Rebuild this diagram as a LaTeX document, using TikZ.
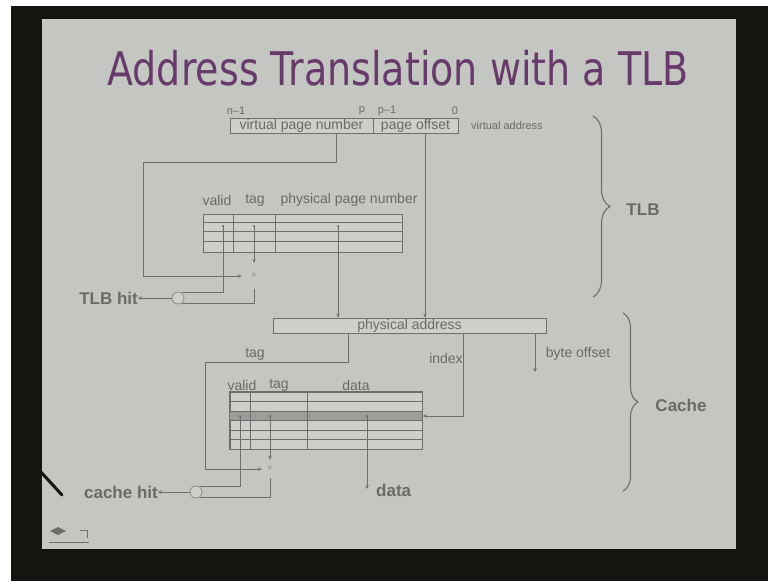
\documentclass[tikz,border=0pt]{standalone}
\usepackage{fontspec}
\setmainfont{Liberation Sans}
\newfontfamily\titlefont{DejaVu Sans}
\usetikzlibrary{arrows.meta,decorations.pathreplacing,calc}

\definecolor{slidebg}{HTML}{C4C6C2}
\definecolor{framecol}{HTML}{131511}
\definecolor{ink}{HTML}{6E6F6C}
\definecolor{txt}{HTML}{6A6B68}
\definecolor{titlecol}{HTML}{683A6C}
\definecolor{cellfill}{HTML}{CDCFCB}
\definecolor{rowhi}{HTML}{9C9D9A}

\begin{document}
\begin{tikzpicture}[x=1pt,y=-1pt,
  wire/.style={draw=ink,line width=0.9pt},
  tip/.style={-{Stealth[length=4pt,width=3.5pt]}},
  lbl/.style={text=txt,font=\fontsize{14}{14}\selectfont,inner sep=0pt},
  smalllbl/.style={text=txt,font=\fontsize{11}{11}\selectfont,inner sep=0pt},
  biglbl/.style={text=txt,font=\bfseries\fontsize{17}{17}\selectfont,inner sep=0pt},
  field/.style={draw=ink,line width=0.7pt,fill=cellfill,minimum height=15pt,inner sep=0pt,text=txt,font=\fontsize{14}{14}\selectfont},
  tablebox/.style={draw=ink,line width=0.7pt,fill=cellfill,inner sep=0pt},
  gate/.style={circle,draw=ink!80,line width=0.8pt,fill=cellfill,minimum size=12pt,inner sep=0pt},
  cmpbox/.style={inner sep=0pt,text=txt,font=\fontsize{7}{7}\selectfont},
  tapdot/.style={circle,fill=ink,inner sep=0pt,minimum size=2.5pt},
  bracestyle/.style={draw=ink,line width=1.1pt,decorate},
]
% frame and slide
\fill[white] (0,0) rectangle (768,581);
\fill[framecol] (11,6) rectangle (768,581);
\fill[slidebg] (42,19) rectangle (736,549);

% title
\node[text=titlecol,inner sep=0pt] (title) at (398,68)
  {\scalebox{1}[1.22]{\titlefont\fontsize{38}{38}\selectfont Address Translation with a TLB}};

% virtual address register
\node[smalllbl] (nm1) at (236,111) {n–1};
\node[smalllbl] (pbit) at (362,111) {p};
\node[smalllbl] (pm1) at (387,111) {p–1};
\node[smalllbl] (zero) at (455,111) {0};
\node[field,minimum width=143pt] (vpn) at (301.5,126) {virtual page number};
\node[field,minimum width=85pt] (po) at (415.5,126) {page offset};
\node[smalllbl,anchor=west] (vaddr) at (471,126) {virtual address};

% TLB
\node[lbl] (hv) at (217,200) {valid};
\node[lbl] (ht) at (255,200) {tag};
\node[lbl] (hp) at (349,200) {physical page number};
\node[tablebox,minimum width=199pt,minimum height=38pt] (tlb) at (302.5,233) {};
\foreach \yy in {222,231,241} \draw[ink,line width=0.8pt] (tlb.west |- 0,\yy) -- (tlb.east |- 0,\yy);
\draw[ink,line width=0.8pt] (233,214) -- (233,252) (275,214) -- (275,252);
\coordinate (tv) at (223,226);
\coordinate (tt) at (254,226);
\coordinate (tp) at (338,226);
\foreach \c in {tv,tt,tp} \node[tapdot] at (\c) {};

\node[cmpbox,minimum width=24pt,minimum height=26pt] (cmp1) at (254,276) {=};
\node[gate] (and1) at (178,298) {};
\node[biglbl,anchor=east] (tlbhit) at (138,298) {TLB hit};

\draw[wire,tip] ([xshift=35pt]vpn.south) |- (143,162) |- (cmp1.west);
\draw[wire,tip] (tt) -- (cmp1.north);
\draw[wire] (cmp1.south) |- (and1.-55);
\draw[wire] (tv) |- (and1.55);
\draw[wire,tip] (and1.west) -- (tlbhit.east);

% physical address
\node[field,minimum width=273pt] (pa) at (409.5,325.5) {physical address};
\draw[wire,tip] (tp) -- (tp |- pa.north);
\draw[wire,tip] ([xshift=9.5pt]po.south) -- ([xshift=9.5pt]po.south |- pa.north);

\node[lbl] (ltag) at (255,354) {tag};
\node[lbl] (lidx) at (446,358) {index};
\node[lbl] (lbyte) at (578,354) {byte offset};

% cache
\node[lbl] (cv0) at (242,385) {valid};
\node[lbl] (ct0) at (279,385) {tag};
\node[lbl] (cd0) at (356,385) {data};
\node[tablebox,minimum width=192pt,minimum height=57pt] (cache) at (326,420.5) {};
\fill[rowhi] (230,411) rectangle (422,420.5);
\foreach \yy in {401.5,411,420.5,430,439.5} \draw[ink,line width=0.8pt] (cache.west |- 0,\yy) -- (cache.east |- 0,\yy);
\draw[ink,line width=0.8pt] (250,392) -- (250,449) (307,392) -- (307,449);
\draw[ink,line width=0.7pt] (cache.north west) rectangle (cache.south east);
\coordinate (cv) at (240,416);
\coordinate (ct) at (270,416);
\coordinate (cd) at (367,416);
\coordinate (crow) at (423,416);
\foreach \c in {cv,ct,cd} \node[tapdot] at (\c) {};

\node[cmpbox,minimum width=16pt,minimum height=18pt] (cmp2) at (270,469) {=};
\node[gate] (and2) at (196,492) {};
\node[biglbl,anchor=east] (chit) at (158,492) {cache hit};
\coordinate (bo) at (535,372);
\coordinate (dend) at (367,489);
\node[biglbl,anchor=west] (dlab) at (376,490) {data};

\draw[wire,tip] ([xshift=-61.5pt]pa.south) |- (205,362) |- (cmp2.west);
\draw[wire,tip] ([xshift=53.5pt]pa.south) |- (crow);
\draw[wire,tip] ([xshift=125.5pt]pa.south) -- (bo);
\draw[wire,tip] (ct) -- (cmp2.north);
\draw[wire] (cmp2.south) |- (and2.-55);
\draw[wire] (cv) |- (and2.55);
\draw[wire,tip] (and2.west) -- (chit.east);
\draw[wire,tip] (cd) -- (dend);

% braces
\draw[bracestyle,decoration={brace,amplitude=17pt}] (593,116) -- (593,297);
\node[biglbl] (tlblab) at (643,210) {TLB};
\draw[bracestyle,decoration={brace,amplitude=15pt}] (623,313) -- (623,491);
\node[biglbl] (cachelab) at (681,405) {Cache};

% pointer stroke at the left edge
\draw[framecol,line width=3pt,line cap=round] (40,471) -- (62,495);

% navigation mark, bottom left
\fill[ink] (50,531) -- (58,527) -- (66,531) -- (58,535) -- cycle;
\draw[ink,line width=0.9pt] (80,530) -- (87,530) -- (87,538);
\draw[ink,line width=0.9pt] (49,542) -- (89,542);
\end{tikzpicture}
\end{document}
